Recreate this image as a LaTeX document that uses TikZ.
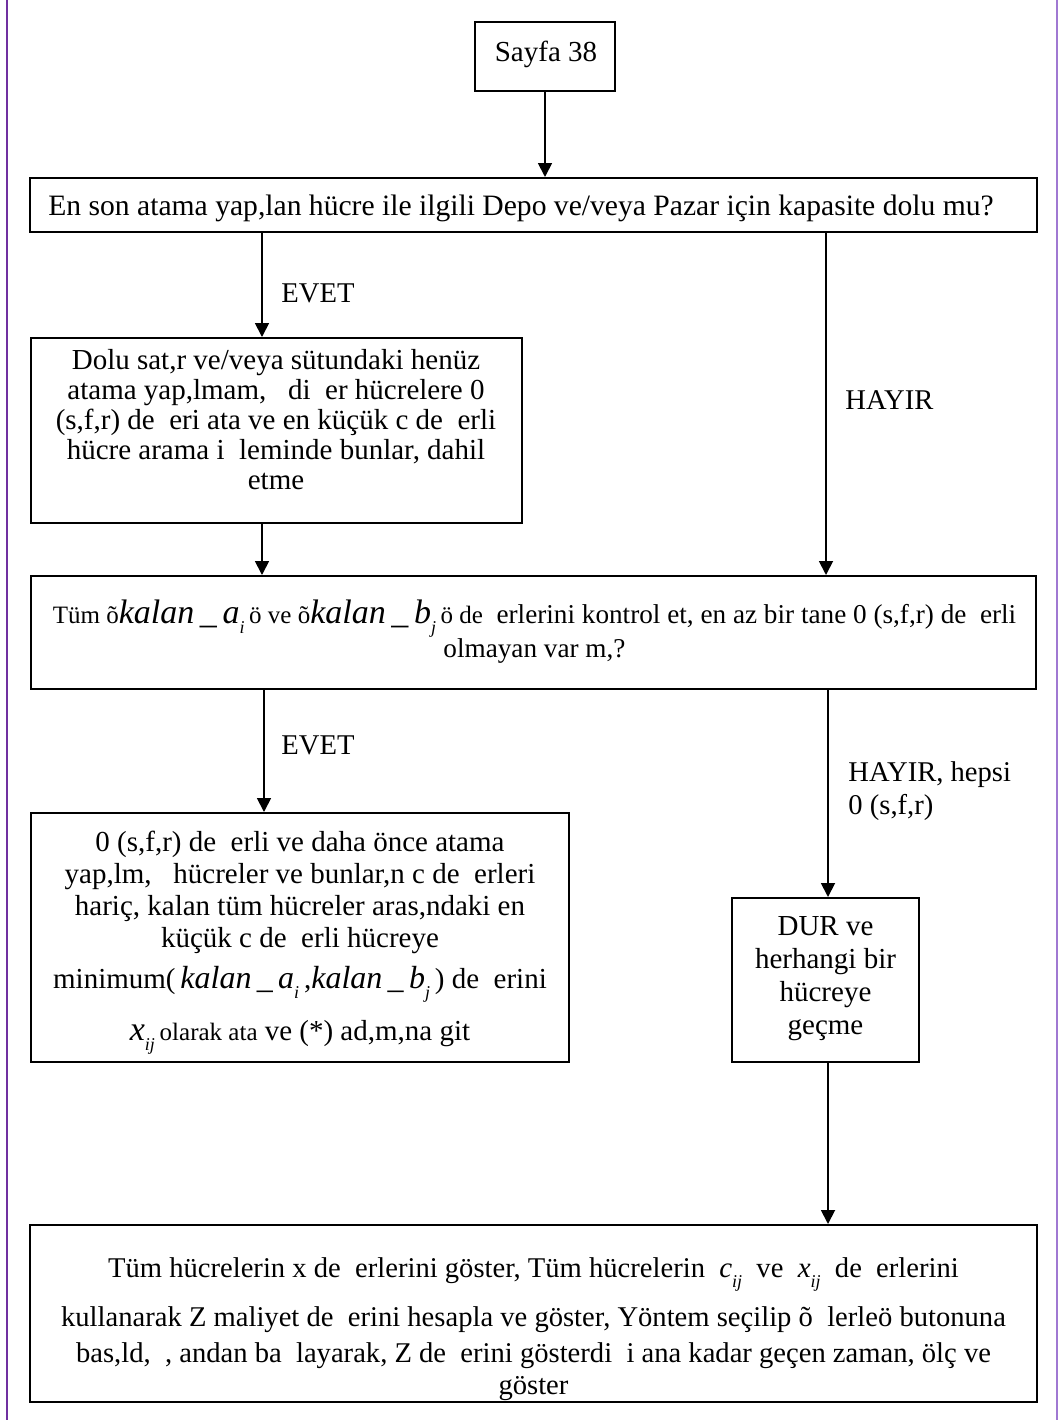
\documentclass[tikz,border=0pt]{standalone}
\usepackage{fontspec}
\setmainfont{Liberation Serif}
\usetikzlibrary{arrows.meta}
% gap left by a glyph the font could not show
\newcommand\gp{\hspace{0.5em}}
% equation-style italic variable and its subscript
\newcommand\mv[1]{{\fontsize{17}{17}\selectfont\itshape #1}}
\newcommand\mvb[1]{{\fontsize{16}{16}\selectfont\itshape #1}}
\newcommand\mvs[1]{{\fontsize{14.5}{14.5}\selectfont\itshape #1}}
\newcommand\sbs[1]{\raisebox{-0.35em}{\fontsize{9}{9}\selectfont\itshape #1}}
\newcommand\kal[1]{\mv{kalan\,\_\,#1}}
\newcommand\kalb[1]{\mvb{kalan\,\_\,#1}}
% smaller run of text next to an equation
\newcommand\sm[1]{{\fontsize{12.5}{12.5}\selectfont #1}}
\definecolor{frameL}{RGB}{112,48,160}
\definecolor{frameR}{RGB}{160,120,210}
\begin{document}
\begin{tikzpicture}[x=0.5pt,y=-0.5pt,
  box/.style={draw, line width=1pt, inner sep=0pt},
  txt/.style={align=center, inner sep=0pt, font=\fontsize{14.5}{16}\selectfont},
  lbl/.style={anchor=west, inner sep=0pt, align=left, font=\fontsize{14.3}{16.5}\selectfont},
  arr/.style={line width=0.9pt, -{Triangle[length=7pt,width=7pt]}}]
\useasboundingbox (0,0) rectangle (1059,1420);

% page edges
\draw[frameL, line width=1.4pt] (7,0) -- (7,1420);
\draw[frameR, line width=0.8pt] (1057,0) -- (1057,1420);

% boxes
\node[box, minimum width=70pt, minimum height=34.5pt] (start) at (545,56.5) {};
\node[txt] (startT) at (546,54) {Sayfa 38};

\node[box, minimum width=503.5pt, minimum height=27pt] (b1) at (533.5,205) {};
\node[txt, font=\fontsize{14.8}{16}\selectfont] (b1T) at (521,208) {En son atama yap,lan hücre ile ilgili Depo ve/veya Pazar için kapasite dolu mu?};

\node[box, minimum width=245.5pt, minimum height=92.5pt] (b2) at (276.5,430.5) {};
\node[txt, font=\fontsize{14.5}{15}\selectfont] (b2T) at (276,420) {Dolu sat,r ve/veya sütundaki henüz\\
atama yap,lmam,\gp\ di\gp er hücrelere 0\\
(s,f,r) de\gp eri ata ve en küçük c de\gp erli\\
hücre arama i\gp leminde bunlar, dahil\\
etme};

\node[box, minimum width=502.5pt, minimum height=56.5pt] (b3) at (533.5,632.5) {};
\node[txt, font=\fontsize{13.6}{16}\selectfont] (b3T) at (534.5,632) {\sm{Tüm õ}\kal{a}\sbs{i}\,\sm{ö ve õ}\kal{b}\sbs{j}\,\sm{ö de}\gp erlerini kontrol et, en az bir tane 0 (s,f,r) de\gp erli\\[0pt]
olmayan var m,?};

\node[box, minimum width=269pt, minimum height=124.5pt] (b4) at (300,937.5) {};
\node[txt] (b4T) at (300,943) {0 (s,f,r) de\gp erli ve daha önce atama\\
yap,lm,\gp\ hücreler ve bunlar,n c de\gp erleri\\
hariç, kalan tüm hücreler aras,ndaki en\\
küçük c de\gp erli hücreye\\[4.5pt]
minimum(\,\kalb{a}\sbs{i}\,,\kalb{b}\sbs{j}\,) de\gp erini\\[8pt]
\mv{x}\sbs{ij}\,\sm{olarak ata} ve (*) ad,m,na git};

\node[box, minimum width=93.5pt, minimum height=82pt] (b5) at (825.5,980) {};
\node[txt, font=\fontsize{14.5}{16.5}\selectfont] (b5T) at (825.5,979) {DUR ve\\herhangi bir\\hücreye\\geçme};

\node[box, minimum width=503.5pt, minimum height=88.5pt] (b6) at (533.5,1313.5) {};
\node[txt, font=\fontsize{14.3}{16}\selectfont] (b6T) at (533.5,1329) {Tüm hücrelerin x de\gp erlerini göster, Tüm hücrelerin \ \mvs{c}\sbs{ij} \ ve \ \mvs{x}\sbs{ij} \ de\gp erlerini\\[7pt]
kullanarak Z maliyet de\gp erini hesapla ve göster, Yöntem seçilip õ\gp lerleö butonuna\\[2pt]
bas,ld,\gp, andan ba\gp layarak, Z de\gp erini gösterdi\gp i ana kadar geçen zaman, ölç ve\\
göster};

% branch columns
\coordinate (colL) at (262,0);
\coordinate (colR) at (826,0);
\coordinate (colL2) at (264,0);
\coordinate (colR2) at (828,0);

% connectors
\draw[arr] (start.south) -- (start.south |- b1.north);
\draw[arr] (b1.south -| colL) -- (b2.north -| colL);
\draw[arr] (b1.south -| colR) -- (b3.north -| colR);
\draw[arr] (b2.south -| colL) -- (b3.north -| colL);
\draw[arr] (b3.south -| colL2) -- (b4.north -| colL2);
\draw[arr] (b3.south -| colR2) -- (b5.north -| colR2);
\draw[arr] (b5.south -| colR2) -- (b6.north -| colR2);

% branch labels
\node[lbl] (yes1) at (281,293) {EVET};
\node[lbl] (no1) at (845,400) {HAYIR};
\node[lbl] (yes2) at (281,745) {EVET};
\node[lbl] (no2) at (848,791) {HAYIR, hepsi\\0 (s,f,r)};
\end{tikzpicture}
\end{document}
